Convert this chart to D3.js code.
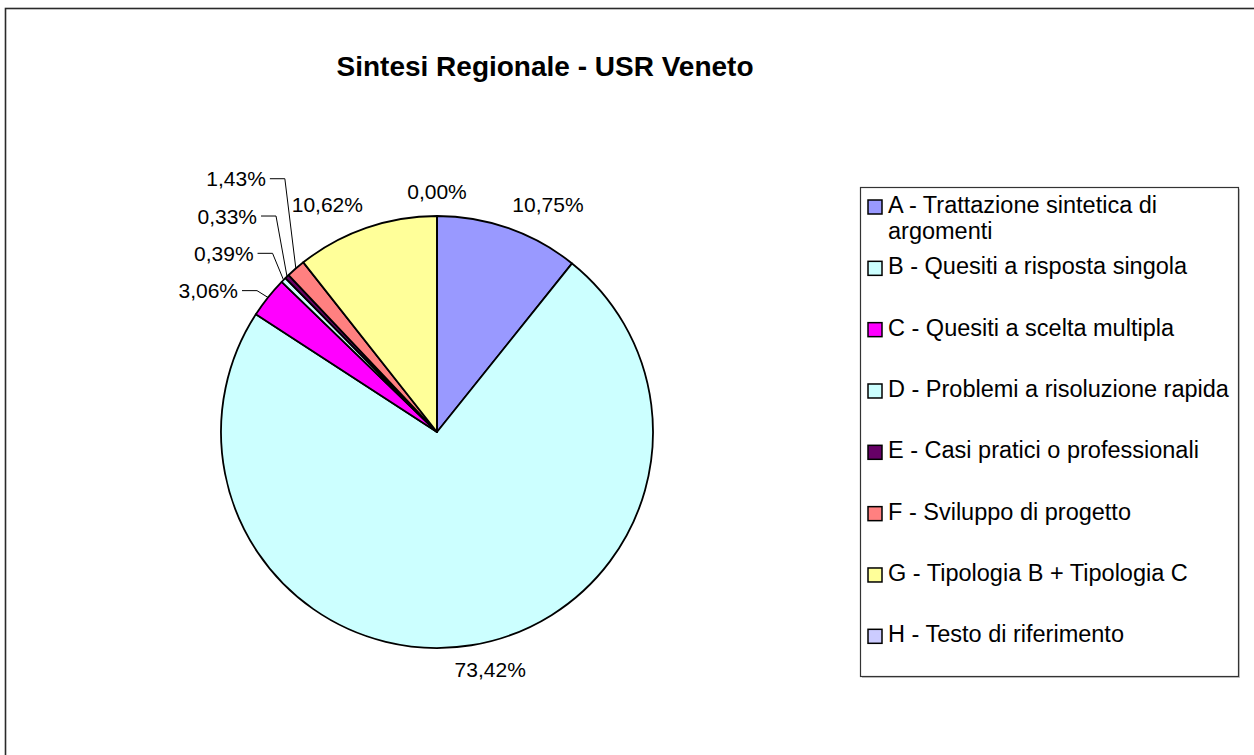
<!DOCTYPE html>
<html>
<head>
<meta charset="utf-8">
<script src="https://cdn.jsdelivr.net/npm/d3@7"></script>
<style>
  body { margin: 0; background: #fff; }
  svg { display: block; font-family: "Liberation Sans", Arial, sans-serif; }
</style>
</head>
<body>
<svg width="1254" height="755"></svg>
<script>
//data
const categories = [
    "A - Trattazione sintetica di argomenti",
    "B - Quesiti a risposta singola",
    "C - Quesiti a scelta multipla",
    "D - Problemi a risoluzione rapida",
    "E - Casi pratici o professionali",
    "F - Sviluppo di progetto",
    "G - Tipologia B + Tipologia C",
    "H - Testo di riferimento"
];
const values = [10.75, 73.42, 3.06, 0.39, 0.33, 1.43, 10.62, 0.00];
const colors = ["#9999FF", "#CCFFFF", "#FF00FF", "#CCFFFF", "#660066", "#FF8080", "#FFFF99", "#CCCCFF"];
const title = "Sintesi Regionale - USR Veneto";

//constants
const cx = 437, cy = 432, radius = 216;
const fmt = v => d3.format(".2f")(v).replace(".", ",") + "%";

const svg = d3.select("svg");

//outer frame
svg.append("rect")
    .attr("x", 5.5).attr("y", 8.5)
    .attr("width", 1270).attr("height", 770)
    .attr("fill", "none")
    .attr("stroke", "#2a2a2a")
    .attr("stroke-width", 1.6);

//title
svg.append("text")
    .attr("x", 545)
    .attr("y", 76)
    .style("text-anchor", "middle")
    .style("font-size", "28px")
    .style("font-weight", "bold")
    .text(title);

//pie
const data = categories.map((c, i) => ({name: c, value: values[i], color: colors[i]}));
const pie = d3.pie().value(d => d.value).sort(null);
const arcs = pie(data);
const arc = d3.arc().innerRadius(0).outerRadius(radius);

const g = svg.append("g")
    .attr("transform", "translate(" + cx + "," + cy + ")");

g.selectAll("path.slice")
    .data(arcs)
    .join("path")
    .attr("class", "slice")
    .attr("d", arc)
    .attr("fill", d => d.data.color)
    .attr("stroke", "#000")
    .attr("stroke-width", 1.8)
    .attr("stroke-linejoin", "round");

//labels
const labels = g.append("g")
    .style("font-size", "21px")
    .attr("fill", "#000");

let lastY = Infinity;
arcs.forEach(function(d) {
    const a = (d.startAngle + d.endAngle) / 2;
    const s = Math.sin(a), c = Math.cos(a);
    const small = d.data.value > 0 && d.data.value < 5;
    const t = labels.append("text")
        .attr("dominant-baseline", "central")
        .text(fmt(d.data.value));
    if (small) {
        //leader line, stacked up on the left side
        const p = [s * radius, -c * radius];
        let ey = -c * (radius + 11);
        if (ey > lastY - 37.3) ey = lastY - 37.3;
        lastY = ey;
        const ex = p[0] - 11;
        labels.append("path")
            .attr("d", d3.line()([p, [ex, ey], [ex - 15, ey]]))
            .attr("fill", "none")
            .attr("stroke", "#000")
            .attr("stroke-width", 1);
        t.attr("x", ex - 19).attr("y", ey)
            .style("text-anchor", "end");
    } else {
        const r = radius + 12;
        const w = t.node().getComputedTextLength();
        const k = Math.max(-1, Math.min(1, s * 3));
        t.attr("x", s * r + k * w / 2)
            .attr("y", -c * r - c * 13)
            .style("text-anchor", "middle");
    }
});

//legend
const legend = svg.append("g");
legend.append("rect")
    .attr("x", 862).attr("y", 189)
    .attr("width", 378).attr("height", 489)
    .attr("fill", "#c8c8c8");
legend.append("rect")
    .attr("x", 860.5).attr("y", 187.5)
    .attr("width", 378).attr("height", 489)
    .attr("fill", "#fff")
    .attr("stroke", "#333")
    .attr("stroke-width", 1.2);

const step = 61.33;
const items = legend.selectAll("g.item")
    .data(data)
    .join("g")
    .attr("class", "item")
    .attr("transform", (d, i) => "translate(0," + (213 + i * step) + ")");

items.append("rect")
    .attr("x", 868).attr("y", -13)
    .attr("width", 14).attr("height", 14)
    .attr("fill", d => d.color)
    .attr("stroke", "#000")
    .attr("stroke-width", 1.5);

items.each(function(d) {
    const txt = d3.select(this).append("text")
        .attr("x", 888)
        .style("font-size", "23.5px");
    //wrap long names
    const words = d.name.split(" ");
    let line = [];
    let tspan = txt.append("tspan").attr("x", 888).attr("dy", 0);
    words.forEach(function(w) {
        line.push(w);
        tspan.text(line.join(" "));
        if (tspan.node().getComputedTextLength() > 345 && line.length > 1) {
            line.pop();
            tspan.text(line.join(" "));
            line = [w];
            tspan = txt.append("tspan").attr("x", 888).attr("dy", 26).text(w);
        }
    });
});
</script>
</body>
</html>
